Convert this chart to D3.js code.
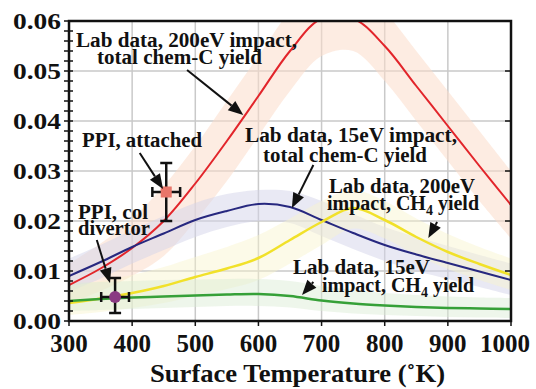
<!DOCTYPE html>
<html>
<head>
<meta charset="utf-8">
<script src="https://cdn.jsdelivr.net/npm/d3@7"></script>
<style>
  body { margin: 0; background: #fff; }
  svg text { font-family: "Liberation Serif", "Times New Roman", serif; font-weight: bold; fill: #111; }
</style>
</head>
<body>
<svg id="chart" width="536" height="389"></svg>
<script>
// surface temperature (K)
var temps = [300, 350, 400, 450, 500, 550, 600, 650, 700, 750, 800, 850, 900, 950, 1000];

// lab data, 200eV impact, total chem-C yield
var red200Total = [0.0072, 0.0105, 0.0146, 0.0200, 0.0275, 0.0360, 0.0450, 0.0540, 0.0605, 0.0605, 0.0550, 0.0470, 0.0390, 0.0310, 0.0232];
var red200High  = [0.0115, 0.0155, 0.0205, 0.0270, 0.0350, 0.0440, 0.0530, 0.0620, 0.0680, 0.0680, 0.0620, 0.0540, 0.0460, 0.0380, 0.0300];
var red200Low   = [0.0035, 0.0060, 0.0090, 0.0130, 0.0200, 0.0280, 0.0370, 0.0460, 0.0530, 0.0540, 0.0480, 0.0400, 0.0320, 0.0240, 0.0165];

// lab data, 15eV impact, total chem-C yield
var blue15Total = [0.0090, 0.0118, 0.0148, 0.0175, 0.0202, 0.0220, 0.0234, 0.0228, 0.0202, 0.0176, 0.0152, 0.0133, 0.0116, 0.0099, 0.0082];
var blue15High  = [0.0125, 0.0152, 0.0182, 0.0210, 0.0236, 0.0254, 0.0262, 0.0260, 0.0240, 0.0214, 0.0188, 0.0168, 0.0150, 0.0132, 0.0115];
var blue15Low   = [0.0058, 0.0085, 0.0115, 0.0142, 0.0168, 0.0188, 0.0200, 0.0196, 0.0170, 0.0144, 0.0120, 0.0100, 0.0084, 0.0068, 0.0052];

// lab data, 200eV impact, CH4 yield
var yellow200CH4  = [0.0036, 0.0045, 0.0056, 0.0070, 0.0088, 0.0105, 0.0126, 0.0162, 0.0198, 0.0226, 0.0202, 0.0168, 0.0138, 0.0114, 0.0092];
var yellow200High = [0.0070, 0.0080, 0.0092, 0.0108, 0.0128, 0.0148, 0.0172, 0.0205, 0.0240, 0.0262, 0.0240, 0.0205, 0.0174, 0.0148, 0.0125];
var yellow200Low  = [0.0012, 0.0018, 0.0026, 0.0036, 0.0050, 0.0064, 0.0082, 0.0115, 0.0152, 0.0185, 0.0165, 0.0132, 0.0104, 0.0082, 0.0062];

// lab data, 15eV impact, CH4 yield
var green15CH4  = [0.0040, 0.0044, 0.0047, 0.0049, 0.0051, 0.0053, 0.0054, 0.0050, 0.0041, 0.0035, 0.0031, 0.0028, 0.0026, 0.0025, 0.0024];
var green15High = [0.0076, 0.0078, 0.0080, 0.0082, 0.0083, 0.0084, 0.0084, 0.0080, 0.0070, 0.0062, 0.0056, 0.0052, 0.0049, 0.0047, 0.0046];
var green15Low  = [0.0020, 0.0022, 0.0024, 0.0026, 0.0028, 0.0030, 0.0030, 0.0027, 0.0020, 0.0015, 0.0012, 0.0010, 0.0008, 0.0007, 0.0006];

// PPI measurements: [temp, value, tempErr, valueLow, valueHigh]
var ppiAttached = [454, 0.0258, 22, 0.0200, 0.0316];
var ppiDivertor = [373, 0.0048, 22, 0.0016, 0.0086];

var xTicks = [300, 400, 500, 600, 700, 800, 900, 1000];
var yTicks = [0, 0.01, 0.02, 0.03, 0.04, 0.05, 0.06];
var yMinorTicks = d3.range(0, 0.0601, 0.002);

var svg = d3.select('#chart');

var x = d3.scaleLinear().domain([300, 1000]).range([69, 511]);
var y = d3.scaleLinear().domain([0, 0.06]).range([321, 21]);

svg.append('defs').append('clipPath')
  .attr('id', 'plot-clip')
  .append('rect')
  .attr('x', 69).attr('y', 21)
  .attr('width', 442).attr('height', 300);

// grid
var grid = svg.append('g').attr('stroke', '#c9c9c9').attr('stroke-width', 1.5);
grid.selectAll('.gx').data(xTicks.slice(1, -1)).enter().append('line')
  .attr('x1', function(d) { return x(d); }).attr('x2', function(d) { return x(d); })
  .attr('y1', y(0)).attr('y2', y(0.06));
grid.selectAll('.gy').data(yTicks.slice(1, -1)).enter().append('line')
  .attr('y1', function(d) { return y(d); }).attr('y2', function(d) { return y(d); })
  .attr('x1', x(300)).attr('x2', x(1000));

var plot = svg.append('g').attr('clip-path', 'url(#plot-clip)');

var curve = d3.curveCatmullRom.alpha(0.5);

var series = [
  { mid: red200Total, low: red200Low, high: red200High, line: '#e2252b', band: '#fbdccb', op: 0.55, w: 2 },
  { mid: blue15Total, low: blue15Low, high: blue15High, line: '#27287f', band: '#d4d4ea', op: 0.5, w: 2 },
  { mid: yellow200CH4, low: yellow200Low, high: yellow200High, line: '#f1e12a', band: '#f8f4cc', op: 0.45, w: 2.5 },
  { mid: green15CH4, low: green15Low, high: green15High, line: '#36a038', band: '#d9ecd3', op: 0.45, w: 2.5 }
];

var area = d3.area()
  .x(function(d) { return x(d[0]); })
  .y0(function(d) { return y(d[1]); })
  .y1(function(d) { return y(d[2]); })
  .curve(curve);

var line = d3.line()
  .x(function(d) { return x(d[0]); })
  .y(function(d) { return y(d[1]); })
  .curve(curve);

series.forEach(function(s) {
  plot.append('path')
    .datum(temps.map(function(t, i) { return [t, s.low[i], s.high[i]]; }))
    .attr('d', area)
    .attr('fill', s.band)
    .attr('fill-opacity', s.op);
});

series.forEach(function(s) {
  plot.append('path')
    .datum(temps.map(function(t, i) { return [t, s.mid[i]]; }))
    .attr('d', line)
    .attr('fill', 'none')
    .attr('stroke', s.line)
    .attr('stroke-width', s.w);
});

// error bars + markers
function drawPoint(p, marker) {
  var g = svg.append('g').attr('stroke', '#111').attr('stroke-width', 2.5);
  g.append('line').attr('x1', x(p[0])).attr('x2', x(p[0])).attr('y1', y(p[3])).attr('y2', y(p[4]));
  g.append('line').attr('x1', x(p[0]) - 6).attr('x2', x(p[0]) + 6).attr('y1', y(p[3])).attr('y2', y(p[3]));
  g.append('line').attr('x1', x(p[0]) - 6).attr('x2', x(p[0]) + 6).attr('y1', y(p[4])).attr('y2', y(p[4]));
  g.append('line').attr('x1', x(p[0] - p[2])).attr('x2', x(p[0] + p[2])).attr('y1', y(p[1])).attr('y2', y(p[1]));
  g.append('line').attr('x1', x(p[0] - p[2])).attr('x2', x(p[0] - p[2])).attr('y1', y(p[1]) - 5).attr('y2', y(p[1]) + 5);
  g.append('line').attr('x1', x(p[0] + p[2])).attr('x2', x(p[0] + p[2])).attr('y1', y(p[1]) - 5).attr('y2', y(p[1]) + 5);
  if (marker === 'square') {
    svg.append('rect')
      .attr('x', x(p[0]) - 5.5).attr('y', y(p[1]) - 5.5)
      .attr('width', 11).attr('height', 11)
      .attr('fill', '#e8766a');
  } else {
    svg.append('circle')
      .attr('cx', x(p[0])).attr('cy', y(p[1])).attr('r', 6)
      .attr('fill', '#8a3a82');
  }
}
drawPoint(ppiAttached, 'square');
drawPoint(ppiDivertor, 'circle');

// annotations: [text, xLeft, baseline, width]
var notes = [
  ['Lab data, 200eV impact,', 76, 47, 221],
  ['total chem-C yield', 97, 64, 165],
  ['PPI, attached', 82, 147, 120],
  ['Lab data, 15eV impact,', 245, 142, 212],
  ['total chem-C yield', 263, 162, 164],
  ['Lab data, 200eV', 329, 193, 146],
  ['PPI, col', 78, 219, 70],
  ['divertor', 78, 235, 72],
  ['Lab data, 15eV', 293, 274, 137]
];

svg.selectAll('.note').data(notes).enter().append('text')
  .attr('x', function(d) { return d[1]; })
  .attr('y', function(d) { return d[2]; })
  .attr('textLength', function(d) { return d[3]; })
  .attr('lengthAdjust', 'spacingAndGlyphs')
  .style('font-size', '20px')
  .text(function(d) { return d[0]; });

// lines with CH4 subscript
var ch4Notes = [[327, 210], [322, 292]];
ch4Notes.forEach(function(n) {
  var t = svg.append('text').attr('x', n[0]).attr('y', n[1]).style('font-size', '20px');
  t.append('tspan').text('impact, CH');
  t.append('tspan').attr('dy', 5).style('font-size', '14px').text('4');
  t.append('tspan').attr('dy', -5).text(' yield');
});

// arrows in data space: [fromT, fromV, toT, toV]
var arrows = [
  [487, 0.0502, 576, 0.0412],
  [412, 0.0336, 449, 0.0264],
  [687, 0.0312, 653, 0.0226],
  [883, 0.0198, 869, 0.0166],
  [344, 0.0162, 365, 0.0076],
  [687, 0.0078, 669, 0.0052]
];

arrows.forEach(function(a) {
  var x1 = x(a[0]), y1 = y(a[1]), x2 = x(a[2]), y2 = y(a[3]);
  var ang = Math.atan2(y2 - y1, x2 - x1);
  var len = 15, half = 6;
  var bx = x2 - len * Math.cos(ang), by = y2 - len * Math.sin(ang);
  svg.append('line')
    .attr('x1', x1).attr('y1', y1).attr('x2', bx).attr('y2', by)
    .attr('stroke', '#111').attr('stroke-width', 2);
  svg.append('path')
    .attr('d', 'M' + x2 + ',' + y2 +
      'L' + (bx + half * Math.sin(ang)) + ',' + (by - half * Math.cos(ang)) +
      'L' + (bx - half * Math.sin(ang)) + ',' + (by + half * Math.cos(ang)) + 'Z')
    .attr('fill', '#111');
});

// frame
svg.append('rect')
  .attr('x', 69).attr('y', 21)
  .attr('width', 442).attr('height', 300)
  .attr('fill', 'none')
  .attr('stroke', '#111')
  .attr('stroke-width', 2.5);

// y ticks
svg.selectAll('.ytm').data(yMinorTicks).enter().append('line')
  .attr('x1', 64).attr('x2', 73)
  .attr('y1', function(d) { return y(d); }).attr('y2', function(d) { return y(d); })
  .attr('stroke', '#111').attr('stroke-width', 1.5);
svg.selectAll('.ytr').data(yTicks).enter().append('line')
  .attr('x1', 505).attr('x2', 511)
  .attr('y1', function(d) { return y(d); }).attr('y2', function(d) { return y(d); })
  .attr('stroke', '#111').attr('stroke-width', 1.5);
svg.selectAll('.xt').data(xTicks).enter().append('line')
  .attr('x1', function(d) { return x(d); }).attr('x2', function(d) { return x(d); })
  .attr('y1', 321).attr('y2', 326)
  .attr('stroke', '#111').attr('stroke-width', 1.5);

svg.selectAll('.yl').data(yTicks).enter().append('text')
  .attr('x', 61)
  .attr('y', function(d) { return y(d) + 8; })
  .attr('text-anchor', 'end')
  .attr('textLength', 48)
  .attr('lengthAdjust', 'spacingAndGlyphs')
  .style('font-size', '24px')
  .text(function(d) { return d3.format('.2f')(d); });

svg.selectAll('.xl').data(xTicks).enter().append('text')
  .attr('x', function(d) { return d === 1000 ? x(d) - 6 : x(d); })
  .attr('y', 352)
  .attr('text-anchor', 'middle')
  .style('font-size', '25px')
  .text(function(d) { return d; });

svg.append('text')
  .attr('x', 150)
  .attr('y', 382)
  .attr('textLength', 295)
  .attr('lengthAdjust', 'spacingAndGlyphs')
  .style('font-size', '26px')
  .text('Surface Temperature (\u02daK)');
</script>
</body>
</html>
